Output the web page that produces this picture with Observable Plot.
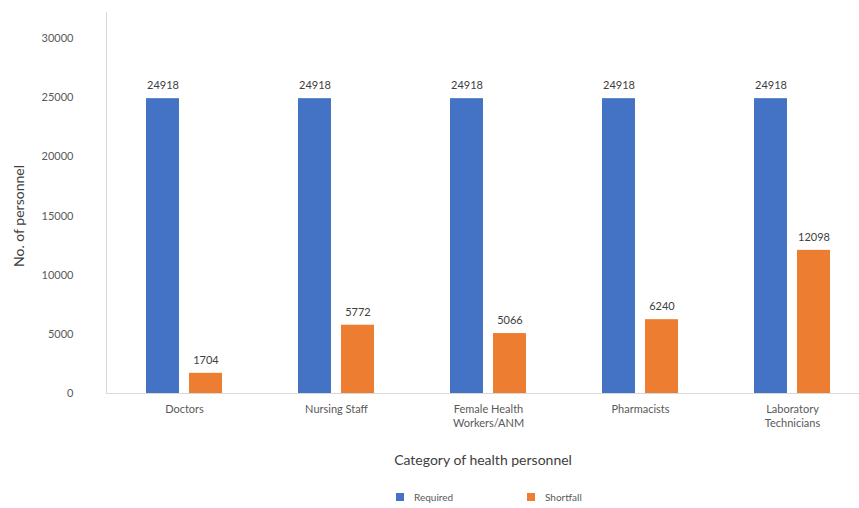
<!DOCTYPE html>
<html>
<head>
<meta charset="utf-8">
<script src="https://cdn.jsdelivr.net/npm/d3@7"></script>
<script src="https://cdn.jsdelivr.net/npm/@observablehq/plot@0.6"></script>
<style>
  body { margin: 0; background: #fff; font-family: Lato, "Open Sans", sans-serif; }
  #wrap { position: relative; width: 859px; height: 508px; }
  #legend { position: absolute; left: 396px; top: 491px; display: flex; gap: 0; font-size: 10px; color: #595959; }
  .item { display: flex; align-items: center; width: 131px; }
  .sw { width: 8px; height: 8px; margin-right: 10px; }
</style>
</head>
<body>
<div id="wrap"><div id="chart"></div><div id="legend"></div></div>
<script>
const categories = ["Doctors", "Nursing Staff", "Female Health\nWorkers/ANM", "Pharmacists", "Laboratory\nTechnicians"];
const required = [24918, 24918, 24918, 24918, 24918];
const shortfall = [1704, 5772, 5066, 6240, 12098];
const seriesNames = ["Required", "Shortfall"];
const seriesColors = ["#4472C4", "#ED7D31"];
const yTicks = [0, 5000, 10000, 15000, 20000, 25000, 30000];

const rows = [];
categories.forEach((c, i) => {
  rows.push({category: c, series: "Required", value: required[i]});
  rows.push({category: c, series: "Shortfall", value: shortfall[i]});
});
const req = rows.filter(d => d.series === "Required");
const sho = rows.filter(d => d.series === "Shortfall");

const chart = Plot.plot({
  width: 859,
  height: 480,
  marginTop: 12,
  marginBottom: 87,
  marginLeft: 106,
  marginRight: 0,
  style: {fontFamily: "Lato, 'Open Sans', sans-serif", color: "#595959", fontSize: "11px"},
  x: {domain: categories, range: [106, 870], padding: 0, label: null},
  y: {domain: [0, 32200], label: null},
  color: {domain: seriesNames, range: seriesColors},
  marks: [
    Plot.barY(req, {x: "category", y: "value", fill: "series", insetLeft: 38, insetRight: 81}),
    Plot.barY(sho, {x: "category", y: "value", fill: "series", insetLeft: 81, insetRight: 38}),
    Plot.text(req, {x: "category", y: "value", text: d => String(d.value), dx: -21.5, dy: -13, fill: "#404040", fontSize: 11}),
    Plot.text(sho, {x: "category", y: "value", text: d => String(d.value), dx: 21.5, dy: -13, fill: "#404040", fontSize: 11}),
    Plot.frame({anchor: "left", stroke: "#d9d9d9"}),
    Plot.ruleY([0], {stroke: "#d9d9d9"}),
    Plot.axisY({ticks: yTicks, tickSize: 0, tickPadding: 33, tickFormat: d => String(d), fontSize: 11, label: "No. of personnel", labelArrow: "none", labelAnchor: "center", labelOffset: 92}),
    Plot.axisX({tickSize: 0, tickPadding: 9, fontSize: 11, lineHeight: 1.3, label: "Category of health personnel", labelAnchor: "center", labelOffset: 71})
  ]
});
document.getElementById("chart").appendChild(chart);

// style axis labels, drop any arrow
chart.querySelectorAll("[aria-label='y-axis label'], [aria-label='x-axis label']").forEach(g => {
  g.setAttribute("font-size", "14");
  g.setAttribute("fill", "#404040");
  g.querySelectorAll("text, tspan").forEach(t => {
    if (t.childNodes.length === 1 && t.firstChild.nodeType === 3) {
      t.textContent = t.textContent.replace(/\s*[↑→↓←]\s*/g, "");
    }
  });
});
const yl = chart.querySelector("[aria-label='y-axis label']");
if (yl) {
  const prev = yl.getAttribute("transform") || "";
  yl.setAttribute("transform", "translate(0,13) " + prev);
}

const legend = document.getElementById("legend");
seriesNames.forEach((s, i) => {
  const it = document.createElement("div");
  it.className = "item";
  const sw = document.createElement("div");
  sw.className = "sw";
  sw.style.background = seriesColors[i];
  const t = document.createElement("span");
  t.textContent = s;
  it.appendChild(sw); it.appendChild(t);
  legend.appendChild(it);
});
</script>
</body>
</html>
